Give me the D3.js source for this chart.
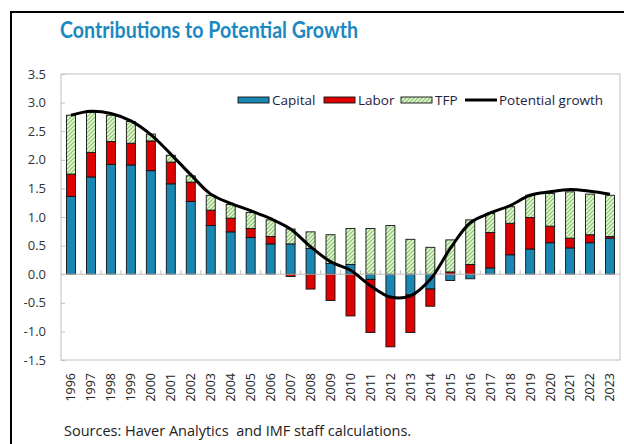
<!DOCTYPE html>
<html><head><meta charset="utf-8">
<script src="https://cdn.jsdelivr.net/npm/d3@7"></script>
<style>
html,body{margin:0;padding:0;background:#fff;}
svg{display:block;}
</style></head>
<body>
<svg id="c" width="624" height="444"></svg>
<script>
const years = ["1996","1997","1998","1999","2000","2001","2002","2003","2004","2005","2006","2007","2008","2009","2010","2011","2012","2013","2014","2015","2016","2017","2018","2019","2020","2021","2022","2023"];
const capital = [1.36,1.70,1.92,1.91,1.81,1.58,1.27,0.85,0.74,0.64,0.53,0.53,0.45,0.19,0.17,-0.09,-0.40,-0.36,-0.26,-0.11,-0.08,0.11,0.34,0.44,0.55,0.46,0.55,0.63];
const labor   = [0.39,0.43,0.40,0.38,0.52,0.38,0.34,0.27,0.24,0.16,0.13,-0.04,-0.26,-0.46,-0.73,-0.93,-0.87,-0.66,-0.30,0.04,0.17,0.62,0.55,0.55,0.29,0.17,0.14,0.03];
const tfp     = [1.03,0.70,0.46,0.38,0.12,0.12,0.11,0.26,0.24,0.28,0.29,0.26,0.29,0.50,0.63,0.80,0.85,0.61,0.47,0.56,0.78,0.33,0.29,0.39,0.57,0.81,0.71,0.72];
const potential = [2.78,2.85,2.81,2.68,2.44,2.10,1.74,1.40,1.24,1.11,0.97,0.79,0.48,0.22,0.07,-0.20,-0.40,-0.38,-0.09,0.45,0.90,1.07,1.20,1.38,1.44,1.48,1.45,1.40];
const yTicks = [-1.5,-1.0,-0.5,0.0,0.5,1.0,1.5,2.0,2.5,3.0,3.5];
const seriesNames = ["Capital","Labor","TFP"];
const title = "Contributions to Potential Growth";
const source = "Sources: Haver Analytics\u00a0 and IMF staff calculations.";

const svg = d3.select("#c");
const L = 61, R = 620, T = 74, B = 360;
const font = "'Open Sans', 'Noto Sans', sans-serif";

// frame
svg.append("rect").attr("x",11).attr("y",12).attr("width",700).attr("height",600)
  .attr("fill","none").attr("stroke","#000").attr("stroke-width",2);

// hatch pattern
const defs = svg.append("defs");
const pat = defs.append("pattern").attr("id","hatch").attr("patternUnits","userSpaceOnUse")
  .attr("width",4).attr("height",4);
pat.append("rect").attr("width",4).attr("height",4).attr("fill","#f4faef");
pat.append("path").attr("d","M-1,1 l2,-2 M0,4 l4,-4 M3,5 l2,-2")
  .attr("stroke","#8fcd6e").attr("stroke-width",1.5);

svg.append("text").attr("x",60).attr("y",38).text(title)
  .attr("font-family","Lato, 'Open Sans', sans-serif").attr("font-weight","bold")
  .attr("font-size",22).attr("fill","#1b88c0").attr("textLength",298).attr("lengthAdjust","spacingAndGlyphs");

const x = d3.scaleBand().domain(years).range([L,R]).paddingInner(0.55).paddingOuter(0.275);
const y = d3.scaleLinear().domain([-1.5,3.5]).range([B,T]);

// plot box
svg.append("rect").attr("x",L).attr("y",T).attr("width",R-L).attr("height",B-T)
  .attr("fill","none").attr("stroke","#bfbfbf").attr("stroke-width",1);

// y axis
const fmt = v => d3.format(".1f")(v).replace("\u2212","-");
const yAxis = svg.append("g").attr("transform",`translate(${L},0)`)
  .call(d3.axisRight(y).tickValues(yTicks).tickSize(4).tickFormat(""));
yAxis.select(".domain").remove();
yAxis.selectAll("line").attr("stroke","#bfbfbf");
svg.append("g").selectAll("text").data(yTicks).join("text")
  .attr("x",46).attr("y",d=>y(d)).attr("dy","0.35em").attr("text-anchor","end")
  .attr("font-family",font).attr("font-size",13).attr("fill","#333").text(fmt);

// stacked bars
const rows = years.map((yr,i)=>({year:yr, Capital:capital[i], Labor:labor[i], TFP:tfp[i]}));
const stack = d3.stack().keys(seriesNames).offset(d3.stackOffsetDiverging)(rows);
const fills = {Capital:"#1a87b3", Labor:"#e00000", TFP:"url(#hatch)"};
svg.append("g").selectAll("g").data(stack).join("g").attr("fill",d=>fills[d.key])
  .selectAll("rect").data(d=>d).join("rect")
  .attr("x",d=>x(d.data.year)).attr("width",x.bandwidth())
  .attr("y",d=>y(Math.max(d[0],d[1]))).attr("height",d=>Math.abs(y(d[0])-y(d[1])))
  .attr("stroke","#111").attr("stroke-width",0.9);

// zero axis with upward ticks at band boundaries
const step = x.step();
const bounds = years.slice(1).map(yr=>x(yr)-step*x.paddingInner()/2);
svg.append("line").attr("x1",L).attr("x2",R).attr("y1",y(0)).attr("y2",y(0))
  .attr("stroke","#bfbfbf").attr("stroke-width",1);
svg.append("g").selectAll("line").data(bounds).join("line")
  .attr("x1",d=>d).attr("x2",d=>d).attr("y1",y(0)).attr("y2",y(0)-4)
  .attr("stroke","#bfbfbf").attr("stroke-width",1);

// potential growth line
const line = d3.line().x((d,i)=>x(years[i])+x.bandwidth()/2).y(d=>y(d)).curve(d3.curveCatmullRom.alpha(0.5));
svg.append("path").attr("d",line(potential)).attr("fill","none").attr("stroke","#000").attr("stroke-width",3);

// x labels
svg.append("g").selectAll("text").data(years).join("text")
  .attr("transform",d=>`translate(${x(d)+x.bandwidth()/2},373) rotate(-90)`)
  .attr("text-anchor","end").attr("dy","0.35em")
  .attr("font-family",font).attr("font-size",12.5).attr("fill","#222").text(d=>d);

// legend
const lg = svg.append("g").attr("font-family",font).attr("font-size",13.5).attr("fill","#1c2240");
const items = [
  {name:"Capital", x:238, type:"rect", fill:fills.Capital},
  {name:"Labor", x:324, type:"rect", fill:fills.Labor},
  {name:"TFP", x:401, type:"rect", fill:fills.TFP},
  {name:"Potential growth", x:465, type:"line"}
];
items.forEach(it=>{
  if(it.type==="rect"){
    lg.append("rect").attr("x",it.x).attr("y",97).attr("width",31).attr("height",6)
      .attr("fill",it.fill).attr("stroke","#111").attr("stroke-width",0.9);
  } else {
    lg.append("line").attr("x1",it.x).attr("x2",it.x+32).attr("y1",100).attr("y2",100)
      .attr("stroke","#000").attr("stroke-width",3);
  }
  lg.append("text").attr("x",it.x+34).attr("y",100).attr("dy","0.35em").text(it.name);
});

svg.append("text").attr("x",64).attr("y",436).text(source)
  .attr("font-family",font).attr("font-size",14.5).attr("fill","#222");
</script>
</body></html>
